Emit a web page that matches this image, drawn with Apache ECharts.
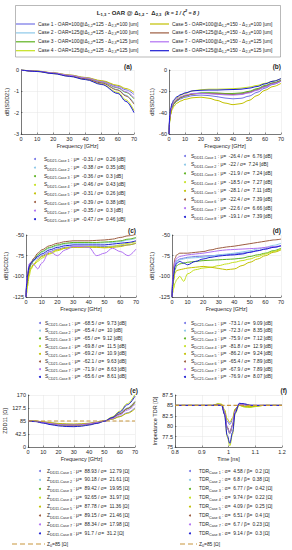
<!DOCTYPE html>
<html><head><meta charset="utf-8">
<script src="https://cdn.jsdelivr.net/npm/echarts@6/dist/echarts.min.js"></script>
<style>html,body{margin:0;padding:0;background:#fff}#c{width:292px;height:550px}</style>
</head><body><div id="c"></div>
<script>
// ---------- data ----------
const CASES = ['Case 1','Case 2','Case 3','Case 4','Case 5','Case 6','Case 7','Case 8'];
const COLORS = ['#7373e6','#8cc8e8','#5cb21e','#c4e01c','#c2c000','#9c5c40','#b070f2','#1c1cd2'];
const OAR = [100,125,100,125,100,125,100,125];
const D12 = [125,125,125,125,150,150,150,150];
const D23 = [100,100,125,125,100,100,125,125];
const Z0 = 85;
const Z0_COLOR = '#c8963c';

const FREQ_A = [0, 10, 20, 30, 40, 50, 60, 65, 70];
const SDD21 = [
  [0, -0.06, -0.14, -0.24, -0.36, -0.52, -0.76, -0.93, -1.15],
  [0, -0.06, -0.15, -0.27, -0.40, -0.60, -0.92, -1.18, -1.55],
  [0, -0.06, -0.15, -0.26, -0.38, -0.56, -0.84, -1.05, -1.35],
  [0, -0.07, -0.17, -0.29, -0.44, -0.66, -1.05, -1.40, -1.90],
  [0, -0.05, -0.13, -0.23, -0.35, -0.50, -0.72, -0.87, -1.05],
  [0, -0.06, -0.15, -0.27, -0.41, -0.61, -0.94, -1.22, -1.60],
  [0, -0.06, -0.14, -0.25, -0.37, -0.55, -0.82, -1.02, -1.30],
  [0, -0.07, -0.17, -0.30, -0.45, -0.68, -1.10, -1.47, -2.00]
];
const SDD21_MU = ['-0.31','-0.38','-0.36','-0.46','-0.31','-0.39','-0.35','-0.47'];
const SDD21_SD = ['0.26','0.35','0.3','0.43','0.26','0.38','0.3','0.46'];

const FREQ_B = [0, 0.5, 1, 2, 3, 5, 7.5, 10, 15, 20, 25, 30, 35, 40, 45, 50, 55, 60, 65, 70];
const SDD11 = [
  [-60, -46, -40, -35, -32, -29, -27, -25.5, -24, -23.5, -24, -25, -26.3, -27, -26.5, -24.5, -21, -17, -13.5, -10.5],
  [-60, -46, -40, -34, -31, -28, -25.5, -24, -22, -21.5, -21.5, -22, -22.5, -22.5, -22, -20.5, -18, -15, -12, -9.5],
  [-60, -47, -41, -35, -32, -28.5, -26, -24.5, -22.5, -21.5, -21.3, -21.5, -22, -22, -21.5, -20, -17.5, -14.5, -12, -9.5],
  [-60, -45, -38, -32, -29, -26, -23.5, -22, -19.5, -18.5, -18, -18, -17.8, -17.5, -17, -16, -14.5, -12.5, -10.5, -8],
  [-60, -48, -42, -37, -34, -31, -29, -27.5, -26, -25.5, -26.5, -28.5, -31, -32.5, -31.5, -28.5, -24, -19, -15.5, -12.5],
  [-60, -45, -39, -34, -31, -28, -25.5, -24, -22.5, -22, -22, -22.3, -22.7, -23, -22.5, -21, -18.5, -15.5, -12.5, -10],
  [-60, -44, -38, -33, -30, -27, -25, -23.5, -22, -22, -22.3, -22.8, -23.3, -23.5, -23, -21.5, -19, -16, -13, -10.5],
  [-60, -42, -36, -31, -28, -25, -23, -21.5, -19.5, -19, -18.8, -18.8, -18.5, -18.3, -18, -17, -15.5, -13, -10.5, -8]
];
const SDD11_MU = ['-26.4','-22','-21.9','-18.5','-28.1','-22.4','-22.6','-19.1'];
const SDD11_SD = ['6.76','7.24','7.24','7.27','7.11','7.39','6.66','7.39'];

const FREQ_C = [0, 0.5, 1, 2, 3, 5, 7.5, 10, 15, 20, 25, 30, 35, 40, 45, 50, 55, 60, 65, 70];
const SCD21 = [
  [-125, -110, -100, -90, -85, -81, -78, -75, -70, -67, -65, -64, -64, -64, -64, -64, -63.5, -63, -62, -60],
  [-125, -112, -103, -93, -87, -81, -75, -71, -66, -63, -61, -60, -60, -60, -60, -59.5, -59, -58, -56, -54],
  [-125, -112, -102, -92, -86, -80, -74, -70, -65, -62, -60, -59, -59, -59, -59, -58.5, -58, -57, -55, -53],
  [-125, -120, -112, -100, -92, -86, -82, -78, -73, -69, -66, -64.5, -64, -64, -64.5, -65, -64, -62, -60, -58],
  [-125, -115, -106, -96, -90, -85, -80, -76, -72, -68, -66, -65, -65, -65, -65, -65.5, -65, -64, -62, -60],
  [-125, -110, -100, -90, -84, -78, -72, -68, -63, -60, -58, -57, -57, -57, -56.5, -56, -55, -53, -51, -49],
  [-125, -105, -95, -85, -83, -86, -91, -84, -70, -75, -68, -64, -64, -65, -75, -72, -66, -70, -75, -67],
  [-125, -108, -98, -88, -84, -80, -76, -73, -68, -65, -63, -62, -62, -62, -62, -62, -61, -60, -59, -57]
];
const SCD21_MU = ['-68.5','-65.4','-65','-69.8','-69.2','-62.1','-71.9','-65.6'];
const SCD21_SD = ['9.73','10','9.12','11.5','10.9','9.63','8.63','8.61'];

const FREQ_D = [0, 0.5, 1, 2, 3, 5, 7.5, 10, 15, 20, 25, 30, 35, 40, 45, 50, 55, 60, 65, 70];
const SDC21 = [
  [-125, -106, -95, -85, -81, -79, -78, -77, -76, -75.5, -75, -74.5, -74, -73, -72, -70.5, -69, -67, -65, -63],
  [-125, -108, -96, -86, -82, -80, -79, -78, -77.5, -77, -75.5, -74, -73, -72, -70.5, -69, -67, -65, -62.5, -60],
  [-125, -112, -102, -92, -87, -85, -84, -83, -82, -81, -80.5, -80, -79.5, -79, -78, -76, -74, -72, -69, -66],
  [-125, -120, -115, -108, -104, -100, -106, -97, -92, -90, -89, -87, -85, -83, -81, -79, -76, -73, -70, -67],
  [-125, -115, -105, -96, -93, -92, -91, -90, -89, -88, -89, -90.5, -92, -91, -87, -83, -79, -75, -71, -68],
  [-125, -100, -88, -78, -74, -72, -72, -72, -71, -70, -68, -66, -64.5, -63.5, -62, -60.5, -59, -57.5, -56, -55],
  [-125, -105, -92, -82, -78, -76, -75, -74, -73, -72, -70.5, -69, -68, -67.5, -67, -66.5, -66, -65, -64, -63],
  [-125, -110, -98, -88, -84, -82, -84, -86, -82, -79, -77, -75.5, -74.5, -74, -73, -71, -69, -67, -65, -63]
];
const SDC21_MU = ['-73.1','-72.3','-75.9','-81.8','-86.2','-65.4','-67.9','-76.9'];
const SDC21_SD = ['9.09','8.35','7.12','12.9','9.24','7.89','7.89','8.07'];

const FREQ_E = [0, 5, 10, 15, 20, 25, 30, 35, 40, 45, 50, 55, 60, 65, 70];
const ZDD11 = [
  [85, 84.5, 82, 78.5, 76, 74.5, 74, 75, 77, 80.5, 85, 91, 100, 112, 128],
  [85, 84, 80, 76, 73, 71, 71, 72, 75, 79, 85, 95, 109, 128, 150],
  [85, 84.5, 81, 77, 74, 72, 72, 73, 76, 80, 85.5, 95, 108, 125, 145],
  [85, 84, 80, 75, 71, 69, 68.5, 70, 73, 78, 85, 98, 117, 142, 172],
  [85, 85, 82.5, 79.5, 77, 75.5, 75, 76, 78, 81, 85.5, 91, 99, 110, 125],
  [85, 84, 80, 76, 73, 71.5, 71, 72.5, 75.5, 79.5, 85, 94.5, 108, 126, 148],
  [85, 84, 80, 76.5, 73.5, 72, 72, 73, 76, 80, 85, 93, 105, 121, 140],
  [85, 83, 78, 73, 69, 67, 66.5, 68, 72, 77, 84, 96, 114, 138, 166]
];
const ZDD11_MU = ['88.93','90.18','89.42','92.65','87.78','89.15','88.34','91.7'];
const ZDD11_SD = ['12.79','21.61','19.95','31.97','11.36','21.46','17.98','31.2'];

const TIME_F = [0.8, 0.9, 0.94, 0.96, 0.975, 0.985, 0.995, 1.005, 1.015, 1.025, 1.04, 1.06, 1.08, 1.1, 1.13, 1.2];
const TDR = [
  [85, 85, 85, 85.05, 84.95, 83.6, 81.2, 80.4, 81.5, 84.0, 85.2, 85.1, 85, 85, 85, 85],
  [85, 85, 85, 85.1, 85, 83.2, 79.6, 78.2, 80.0, 83.7, 85.3, 85.2, 84.95, 84.95, 85, 85],
  [85, 85, 85, 85.3, 85.2, 83.3, 79.7, 78.3, 80.2, 83.8, 85.1, 84.7, 84.6, 84.8, 85, 85],
  [85, 85, 85, 85.4, 85.3, 82.8, 77.5, 75.3, 78, 83.0, 85.0, 84.6, 84.5, 84.7, 85, 85],
  [85, 85, 85, 85.3, 85.2, 84, 81.8, 80.9, 82, 84.2, 85.0, 84.8, 84.7, 84.85, 85, 85],
  [85, 85, 85, 85.05, 85, 83.3, 79.8, 78.5, 80.3, 83.8, 85.3, 85.2, 85, 85, 85, 85],
  [85, 85, 85, 85.1, 85, 83.3, 79.7, 78.3, 80.1, 83.7, 85.25, 85.15, 85, 85, 85, 85],
  [85, 85, 85, 85.05, 84.95, 82.8, 77.8, 75.9, 78.5, 83.2, 85.5, 85.4, 85.05, 85, 85, 85]
];
const TDR_A = ['4.58','6.8','6.77','9.74','4.09','6.51','6.7','9.14'];
const TDR_B = ['0.2','0.38','0.42','0.22','0.25','0.4','0.23','0.3'];

const FREQ_TICKS = {min: 0, max: 70, interval: 10};

// ---------- styling helpers ----------
const FONT = 'Liberation Sans, Arial, Helvetica, sans-serif';
const INK = '#262626';
function rs(o) { return Object.assign({fontFamily: FONT, fill: INK}, o); }
const SUBRICH = {
  s: rs({fontSize: 3.7, lineHeight: 4, verticalAlign: 'bottom'}),
};

const grids = [
  {left: 21, top: 70, width: 113, height: 64},
  {left: 169, top: 70, width: 112, height: 64},
  {left: 26, top: 235, width: 110, height: 62},
  {left: 172, top: 235, width: 109, height: 62},
  {left: 28, top: 395, width: 107, height: 52},
  {left: 175, top: 395, width: 107, height: 52}
];

function xAx(gi, rng, name) {
  return Object.assign({
    type: 'value', gridIndex: gi, name: name, nameLocation: 'middle', nameGap: 9,
    nameTextStyle: {fontSize: 5.5, color: INK, fontFamily: FONT},
    axisLine: {show: true, onZero: false, lineStyle: {color: INK, width: 0.6}},
    axisTick: {show: true, inside: true, length: 1.5, lineStyle: {color: INK, width: 0.5}},
    axisLabel: {fontSize: 5.5, color: INK, margin: 2, fontFamily: FONT},
    splitLine: {show: true, lineStyle: {color: '#e4e4e4', width: 0.5}}
  }, rng);
}
function yAx(gi, rng, name, gap) {
  return Object.assign({
    type: 'value', gridIndex: gi, name: name, nameLocation: 'middle', nameGap: gap,
    nameTextStyle: {fontSize: 5.5, color: INK, fontFamily: FONT},
    axisLine: {show: true, onZero: false, lineStyle: {color: INK, width: 0.6}},
    axisTick: {show: true, inside: true, length: 1.5, lineStyle: {color: INK, width: 0.5}},
    axisLabel: {fontSize: 5.5, color: INK, margin: 2, fontFamily: FONT},
    splitLine: {show: true, lineStyle: {color: '#e4e4e4', width: 0.5}}
  }, rng);
}

function lines(gi, xs, rows) {
  return rows.map((r, c) => ({
    type: 'line', name: CASES[c], xAxisIndex: gi, yAxisIndex: gi,
    data: xs.map((x, i) => [x, r[i]]),
    symbol: 'none', showSymbol: false, smooth: 0.35, smoothMonotone: 'x',
    lineStyle: {width: 1, color: COLORS[c]}, itemStyle: {color: COLORS[c]},
    silent: true
  }));
}
function z0line(gi, x0, x1) {
  return {
    type: 'line', name: 'Z0', xAxisIndex: gi, yAxisIndex: gi,
    data: [[x0, Z0], [x1, Z0]], symbol: 'none', silent: true,
    lineStyle: {width: 1.2, color: Z0_COLOR, type: [4, 2.5]}
  };
}

const series = [].concat(
  lines(0, FREQ_A, SDD21),
  lines(1, FREQ_B, SDD11),
  lines(2, FREQ_C, SCD21),
  lines(3, FREQ_D, SDC21),
  lines(4, FREQ_E, ZDD11), [z0line(4, 0, 70)],
  lines(5, TIME_F, TDR), [z0line(5, 0.8, 1.2)]
);

// ---------- graphic: legend box & statistic lists ----------
const els = [];
els.push({type: 'rect', shape: {x: 15.5, y: 5.5, width: 265, height: 51.5},
  style: {fill: '#fff', stroke: '#8a8a8a', lineWidth: 0.6}});
els.push({type: 'text', x: 148, y: 12.5, style: {
  text: 'L{s|1,3} - OAR @ Δ{s|1,2} -  Δ{s|2,3}  {i|(k = 1 / ζ}{sup|2}{i| = 8 )}',
  fontSize: 6, fontWeight: 'bold', fontFamily: FONT, fill: INK, align: 'center', verticalAlign: 'middle', lineHeight: 8,
  rich: {
    s: rs({fontSize: 4.2, fontWeight: 'bold', lineHeight: 4.5, verticalAlign: 'bottom'}),
    i: rs({fontSize: 5.2, fontWeight: 'bold', fontStyle: 'italic'}),
    sup: rs({fontSize: 3.8, fontWeight: 'bold', fontStyle: 'italic', lineHeight: 4, verticalAlign: 'top'})
  }
}});
const LEG_ROWS = [24, 32.9, 41.8, 50.7];
for (let c = 0; c < 8; c++) {
  const col = c < 4 ? 0 : 1;
  const y = LEG_ROWS[c % 4];
  const lx = col === 0 ? 16 : 150;
  els.push({type: 'line', shape: {x1: lx, y1: y, x2: lx + 19, y2: y},
    style: {stroke: COLORS[c], lineWidth: 1.2}});
  els.push({type: 'text', x: lx + 22, y: y, style: {
    text: CASES[c] + ' - OAR=' + OAR[c] + '@Δ{s|1,2}=' + D12[c] + ' - Δ{s|2,3}=' + D23[c] + ' [um]',
    fontSize: 4.9, fontFamily: FONT, fill: INK, align: 'left', verticalAlign: 'middle', lineHeight: 7,
    rich: SUBRICH
  }});
}

function statList(mx, tx, y0, dy, head, sub, sym1, v1, sym2, v2, unit) {
  for (let c = 0; c < 8; c++) {
    const y = y0 + c * dy;
    els.push({type: 'circle', shape: {cx: mx, cy: y, r: 1}, style: {fill: COLORS[c]}});
    els.push({type: 'text', x: tx, y: y, style: {
      text: head + '{s|' + sub + CASES[c] + '} : ' + sym1 + '=  ' + v1[c] + ' / ' + sym2 + '=  ' + v2[c] + ' ' + unit,
      fontSize: 4.9, fontFamily: FONT, fill: INK, align: 'left', verticalAlign: 'middle', lineHeight: 8,
      rich: SUBRICH
    }});
  }
}
statList(35, 44, 159, 8.6, 'S', 'DD21-', 'μ', SDD21_MU, 'σ', SDD21_SD, '[dB]');
statList(185, 191, 156, 8.7, 'S', 'DD11-', 'μ', SDD11_MU, 'σ', SDD11_SD, '[dB]');
statList(40, 45, 323, 7.7, 'S', 'CD21-', 'μ', SCD21_MU, 'σ', SCD21_SD, '[dB]');
statList(185, 191, 323, 7.7, 'S', 'DC21-', 'μ', SDC21_MU, 'σ', SDC21_SD, '[dB]');
statList(40, 47, 471, 8.9, 'Z', 'DD11-', 'μ', ZDD11_MU, 'σ', ZDD11_SD, '[Ω]');
statList(190, 199, 471, 8.9, 'TDR', '', 'α', TDR_A, 'β', TDR_B, '[Ω]');

function z0Key(x1, x2, tx, y) {
  els.push({type: 'line', shape: {x1: x1, y1: y, x2: x2, y2: y},
    style: {stroke: Z0_COLOR, lineWidth: 1.2, lineDash: [5, 3]}});
  els.push({type: 'text', x: tx, y: y, style: {
    text: 'Z{s|0}=' + Z0 + ' [Ω]', fontSize: 4.9, fontFamily: FONT, fill: INK,
    align: 'left', verticalAlign: 'middle', lineHeight: 8, rich: SUBRICH
  }});
}
z0Key(12, 45, 47, 544);
z0Key(180, 197, 199, 544);

const PANEL_LABELS = [['(a)', 132, 66], ['(b)', 281, 66], ['(c)', 136, 230], ['(d)', 281, 230], ['(e)', 138, 390], ['(f)', 287, 390]];
PANEL_LABELS.forEach(p => els.push({type: 'text', x: p[1], y: p[2], style: {
  text: p[0], fontSize: 6.5, fontWeight: 'bold', fontFamily: FONT, fill: INK, align: 'right', verticalAlign: 'middle'
}}));

const option = {
  animation: false,
  backgroundColor: '#fff',
  grid: grids,
  xAxis: [
    xAx(0, FREQ_TICKS, 'Frequency [GHz]'),
    xAx(1, FREQ_TICKS, 'Frequency [GHz]'),
    xAx(2, FREQ_TICKS, 'Frequency [GHz]'),
    xAx(3, FREQ_TICKS, 'Frequency [GHz]'),
    xAx(4, FREQ_TICKS, 'Frequency [GHz]'),
    xAx(5, {min: 0.8, max: 1.2, interval: 0.1}, 'Time [ns]')
  ],
  yAxis: [
    yAx(0, {min: -3, max: 0, interval: 1}, 'dB(SDD21)', 8),
    yAx(1, {min: -60, max: 0, interval: 20}, 'dB(SDD11)', 11),
    yAx(2, {min: -125, max: -50, interval: 25}, 'dB(SCD21)', 12),
    yAx(3, {min: -125, max: -50, interval: 25}, 'dB(SDC21)', 12),
    yAx(4, {min: 0, max: 170, interval: 42.5}, 'ZDD11 [Ω]', 13),
    yAx(5, {min: 75, max: 87.5, interval: 2.5}, 'Impedance TDR [Ω]', 12)
  ],
  series: series,
  graphic: {elements: els}
};

const chart = echarts.init(document.getElementById('c'), null, {renderer: 'svg', width: 292, height: 550});
chart.setOption(option);
</script></body></html>
